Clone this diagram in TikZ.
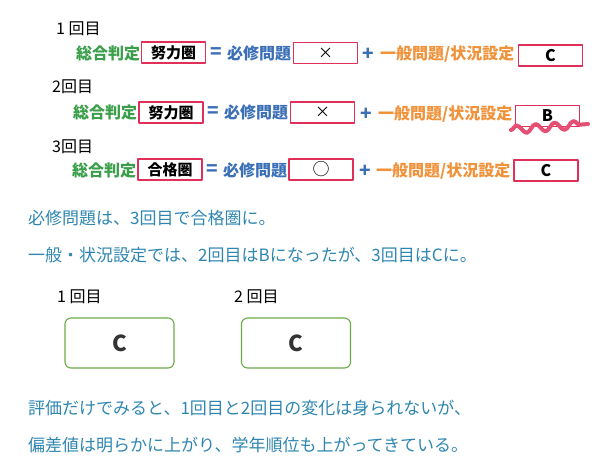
\documentclass[tikz,border=0pt]{standalone}
\usepackage{fontspec}
\setmainfont{Noto Sans CJK JP}
\usetikzlibrary{decorations.pathmorphing}
\definecolor{hanteigreen}{HTML}{3A9E4A}
\definecolor{hissyublue}{HTML}{3B6FB6}
\definecolor{ippanorange}{HTML}{F0923A}
\definecolor{boxred}{HTML}{E0305A}
\definecolor{bodyblue}{HTML}{2E86B0}
\definecolor{ccgreen}{HTML}{6AAA48}
\begin{document}
\begin{tikzpicture}[x=1pt,y=-1pt,line join=round,line cap=round,
	kai/.style={anchor=west,inner sep=0,font=\fontsize{16}{16}\selectfont},
	lbl/.style={anchor=west,inner sep=0,font=\fontsize{16}{16}\selectfont\bfseries},
	redbox/.style={draw=boxred,line width=1.1pt,minimum width=64,minimum height=21,inner sep=0,font=\fontsize{15}{15}\selectfont},
	body/.style={anchor=west,inner sep=0,text=bodyblue,font=\fontsize{17}{17}\selectfont},
	ccbox/.style={draw=ccgreen,line width=1.1pt,rounded corners=6pt,minimum width=109,minimum height=50,inner sep=0,text=black!80,font=\fontsize{22}{22}\selectfont\bfseries}]
	\useasboundingbox (0,0) rectangle (596,464);
	% 1回目
	\node[kai] (k1) at (56,29) {1 回目};
	\node[lbl,text=hanteigreen] (s1) at (76,53) {総合判定};
	\node[redbox,font=\fontsize{15}{15}\selectfont\bfseries] (a1) at (173.5,52.5) {努力圏};
	\node[lbl,text=hissyublue,font=\fontsize{19}{19}\selectfont\bfseries] (e1) at (210,53) {=};
	\node[lbl,text=hissyublue] (h1) at (227,53) {必修問題};
	\node[redbox] (b1) at (325.5,53) {×};
	\node[lbl,text=hissyublue,font=\fontsize{19}{19}\selectfont\bfseries] (p1) at (362,54) {+};
	\node[lbl,text=ippanorange] (g1) at (380,54) {一般問題/状況設定};
	\node[redbox,font=\fontsize{16}{16}\selectfont\bfseries] (c1) at (550.5,55.5) {C};
	% 2回目
	\node[kai] (k2) at (52,87) {2回目};
	\node[lbl,text=hanteigreen] (s2) at (73,112) {総合判定};
	\node[redbox,font=\fontsize{15}{15}\selectfont\bfseries] (a2) at (171,112.5) {努力圏};
	\node[lbl,text=hissyublue,font=\fontsize{19}{19}\selectfont\bfseries] (e2) at (207,112) {=};
	\node[lbl,text=hissyublue] (h2) at (224,112) {必修問題};
	\node[redbox] (b2) at (322.5,112.5) {×};
	\node[lbl,text=hissyublue,font=\fontsize{19}{19}\selectfont\bfseries] (p2) at (360,114) {+};
	\node[lbl,text=ippanorange] (g2) at (378,114) {一般問題/状況設定};
	\node[redbox,font=\fontsize{16}{16}\selectfont\bfseries] (c2) at (547.5,116) {B};
	\draw[boxred!85,line width=4pt,decorate,decoration={snake,segment length=19,amplitude=4}] (511,130)--(588,124);
	% 3回目
	\node[kai] (k3) at (52,147) {3回目};
	\node[lbl,text=hanteigreen] (s3) at (72,170) {総合判定};
	\node[redbox,font=\fontsize{15}{15}\selectfont\bfseries] (a3) at (170,169.5) {合格圏};
	\node[lbl,text=hissyublue,font=\fontsize{19}{19}\selectfont\bfseries] (e3) at (206,170) {=};
	\node[lbl,text=hissyublue] (h3) at (223,170) {必修問題};
	\node[redbox,font=\fontsize{17}{17}\selectfont] (b3) at (321,169.5) {○};
	\node[lbl,text=hissyublue,font=\fontsize{19}{19}\selectfont\bfseries] (p3) at (359,171) {+};
	\node[lbl,text=ippanorange] (g3) at (376,171) {一般問題/状況設定};
	\node[redbox,font=\fontsize{16}{16}\selectfont\bfseries] (c3) at (546,170.5) {C};
	% まとめ
	\node[body] (t1) at (28,218) {必修問題は、3回目で合格圏に。};
	\node[body] (t2) at (28,255) {一般・状況設定では、2回目はBになったが、3回目はCに。};
	\node[kai] (m1) at (57,297) {1 回目};
	\node[kai] (m2) at (234,297) {2 回目};
	\node[ccbox] (r1) at (119.5,343) {C};
	\node[ccbox] (r2) at (296,343) {C};
	\node[body] (t3) at (28,408) {評価だけでみると、1回目と2回目の変化は身られないが、};
	\node[body] (t4) at (28,445) {偏差値は明らかに上がり、学年順位も上がってきている。};
\end{tikzpicture}
\end{document}
